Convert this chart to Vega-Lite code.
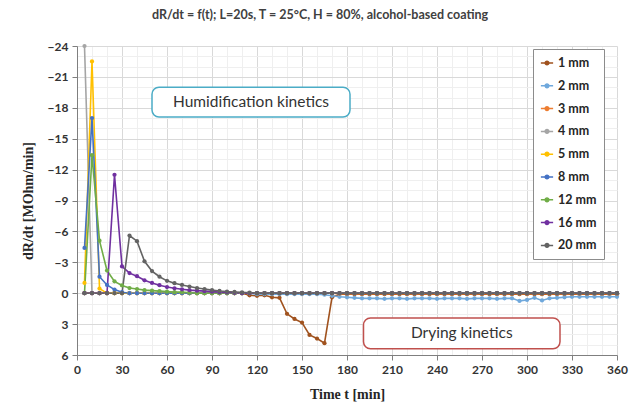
{
  "$schema": "https://vega.github.io/schema/vega-lite/v6.json",
  "width": 540,
  "height": 309,
  "autosize": {"type": "none"},
  "padding": {"left": 77, "top": 46, "right": 23, "bottom": 52},
  "background": "white",
  "title": {
    "text": "dR/dt = f(t); L=20s, T = 25°C, H = 80%, alcohol-based coating",
    "font": "Lato", "fontSize": 12.5, "fontWeight": "bold", "color": "#404040",
    "anchor": "middle", "dx": -27, "offset": 19
  },
  "config": {
    "view": {"stroke": null},
    "axis": {"labelFont": "Lato", "labelFontWeight": "bold", "labelFontSize": 12, "labelColor": "#333333",
             "titleFont": "Liberation Serif", "titleFontWeight": "bold", "titleFontSize": 14, "titleColor": "#262626",
             "domainColor": "#7f7f7f", "tickColor": "#7f7f7f"}
  },
  "datasets": {
    "notes": [
      {"label": "Humidification kinetics", "t": 50, "t2": 182, "v": -20, "v2": -17.1, "tm": 116, "vm": -18.55, "kind": "h"},
      {"label": "Drying kinetics", "t": 191, "t2": 322, "v": 2.4, "v2": 5.4, "tm": 256.5, "vm": 3.9, "kind": "d"}
    ],
    "rates": [
      {"t":5,"1 mm":0,"2 mm":0,"3 mm":0,"4 mm":-24,"5 mm":-1.0,"8 mm":-4.4,"12 mm":0,"16 mm":0,"20 mm":0},
      {"t":10,"1 mm":0,"2 mm":0,"3 mm":0,"4 mm":0,"5 mm":-22.5,"8 mm":-17,"12 mm":-13.4,"16 mm":0,"20 mm":0},
      {"t":15,"1 mm":0,"2 mm":0,"3 mm":0,"4 mm":0,"5 mm":-0.45,"8 mm":-1.6,"12 mm":-5.1,"16 mm":0,"20 mm":0},
      {"t":20,"1 mm":0,"2 mm":0,"3 mm":0,"4 mm":0,"5 mm":0,"8 mm":-0.8,"12 mm":-2.2,"16 mm":0,"20 mm":0},
      {"t":25,"1 mm":0,"2 mm":0,"3 mm":0,"4 mm":0,"5 mm":0,"8 mm":-0.35,"12 mm":-1.15,"16 mm":-11.5,"20 mm":0},
      {"t":30,"1 mm":0,"2 mm":0,"3 mm":0,"4 mm":0,"5 mm":0,"8 mm":-0.1,"12 mm":-0.75,"16 mm":-2.6,"20 mm":0},
      {"t":35,"1 mm":0,"2 mm":0,"3 mm":0,"4 mm":0,"5 mm":0,"8 mm":0,"12 mm":-0.5,"16 mm":-1.95,"20 mm":-5.6},
      {"t":40,"1 mm":0,"2 mm":0,"3 mm":0,"4 mm":0,"5 mm":0,"8 mm":0,"12 mm":-0.4,"16 mm":-1.65,"20 mm":-5.05},
      {"t":45,"1 mm":0,"2 mm":0,"3 mm":0,"4 mm":0,"5 mm":0,"8 mm":0,"12 mm":-0.3,"16 mm":-1.25,"20 mm":-3.1},
      {"t":50,"1 mm":0,"2 mm":0,"3 mm":0,"4 mm":0,"5 mm":0,"8 mm":0,"12 mm":-0.25,"16 mm":-1.0,"20 mm":-2.15},
      {"t":55,"1 mm":0,"2 mm":0,"3 mm":0,"4 mm":0,"5 mm":0,"8 mm":0,"12 mm":-0.2,"16 mm":-0.78,"20 mm":-1.6},
      {"t":60,"1 mm":0,"2 mm":0,"3 mm":0,"4 mm":0,"5 mm":0,"8 mm":0,"12 mm":-0.15,"16 mm":-0.6,"20 mm":-1.2},
      {"t":65,"1 mm":0,"2 mm":0,"3 mm":0,"4 mm":0,"5 mm":0,"8 mm":0,"12 mm":-0.1,"16 mm":-0.48,"20 mm":-0.97},
      {"t":70,"1 mm":0,"2 mm":0,"3 mm":0,"4 mm":0,"5 mm":0,"8 mm":0,"12 mm":-0.1,"16 mm":-0.38,"20 mm":-0.8},
      {"t":75,"1 mm":0,"2 mm":0,"3 mm":0,"4 mm":0,"5 mm":0,"8 mm":0,"12 mm":-0.05,"16 mm":-0.3,"20 mm":-0.65},
      {"t":80,"1 mm":0,"2 mm":0,"3 mm":0,"4 mm":0,"5 mm":0,"8 mm":0,"12 mm":0,"16 mm":-0.25,"20 mm":-0.5},
      {"t":85,"1 mm":0,"2 mm":0,"3 mm":0,"4 mm":0,"5 mm":0,"8 mm":0,"12 mm":0,"16 mm":-0.2,"20 mm":-0.4},
      {"t":90,"1 mm":0,"2 mm":0,"3 mm":0,"4 mm":0,"5 mm":0,"8 mm":0,"12 mm":0,"16 mm":-0.15,"20 mm":-0.3},
      {"t":95,"1 mm":0,"2 mm":0,"3 mm":0,"4 mm":0,"5 mm":0,"8 mm":0,"12 mm":0,"16 mm":-0.1,"20 mm":-0.22},
      {"t":100,"1 mm":0,"2 mm":0,"3 mm":0,"4 mm":0,"5 mm":0,"8 mm":0,"12 mm":0,"16 mm":-0.07,"20 mm":-0.16},
      {"t":105,"1 mm":0,"2 mm":0,"3 mm":0,"4 mm":0,"5 mm":0,"8 mm":0,"12 mm":0,"16 mm":-0.04,"20 mm":-0.12},
      {"t":110,"1 mm":0,"2 mm":0,"3 mm":0,"4 mm":0,"5 mm":0,"8 mm":0,"12 mm":0,"16 mm":0,"20 mm":-0.08},
      {"t":115,"1 mm":0.2,"2 mm":0,"3 mm":0,"4 mm":0,"5 mm":0,"8 mm":0,"12 mm":0,"16 mm":0,"20 mm":-0.05},
      {"t":120,"1 mm":0.25,"2 mm":0.1,"3 mm":0,"4 mm":0,"5 mm":0,"8 mm":0,"12 mm":0,"16 mm":0,"20 mm":0},
      {"t":125,"1 mm":0.2,"2 mm":0.1,"3 mm":0,"4 mm":0,"5 mm":0,"8 mm":0,"12 mm":0,"16 mm":0,"20 mm":0},
      {"t":130,"1 mm":0.4,"2 mm":0.1,"3 mm":0,"4 mm":0,"5 mm":0,"8 mm":0,"12 mm":0,"16 mm":0,"20 mm":0},
      {"t":135,"1 mm":0.45,"2 mm":0.1,"3 mm":0,"4 mm":0,"5 mm":0,"8 mm":0,"12 mm":0,"16 mm":0,"20 mm":0},
      {"t":140,"1 mm":2.0,"2 mm":0.1,"3 mm":0,"4 mm":0,"5 mm":0,"8 mm":0,"12 mm":0,"16 mm":0,"20 mm":0},
      {"t":145,"1 mm":2.5,"2 mm":0.1,"3 mm":0,"4 mm":0,"5 mm":0,"8 mm":0,"12 mm":0,"16 mm":0,"20 mm":0},
      {"t":150,"1 mm":2.85,"2 mm":0.1,"3 mm":0,"4 mm":0,"5 mm":0,"8 mm":0,"12 mm":0,"16 mm":0,"20 mm":0},
      {"t":155,"1 mm":4.05,"2 mm":0.1,"3 mm":0,"4 mm":0,"5 mm":0,"8 mm":0,"12 mm":0,"16 mm":0,"20 mm":0},
      {"t":160,"1 mm":4.4,"2 mm":0.1,"3 mm":0,"4 mm":0,"5 mm":0,"8 mm":0,"12 mm":0,"16 mm":0,"20 mm":0},
      {"t":165,"1 mm":4.85,"2 mm":0.15,"3 mm":0,"4 mm":0,"5 mm":0,"8 mm":0,"12 mm":0,"16 mm":0,"20 mm":0},
      {"t":170,"1 mm":0.4,"2 mm":0.25,"3 mm":0,"4 mm":0,"5 mm":0,"8 mm":0,"12 mm":0,"16 mm":0,"20 mm":0},
      {"t":175,"1 mm":0.1,"2 mm":0.35,"3 mm":0.05,"4 mm":0,"5 mm":0,"8 mm":0,"12 mm":0,"16 mm":0,"20 mm":0},
      {"t":180,"1 mm":0.1,"2 mm":0.4,"3 mm":0.05,"4 mm":0,"5 mm":0,"8 mm":0,"12 mm":0,"16 mm":0,"20 mm":0},
      {"t":185,"1 mm":0.1,"2 mm":0.45,"3 mm":0.05,"4 mm":0,"5 mm":0,"8 mm":0,"12 mm":0,"16 mm":0,"20 mm":0},
      {"t":190,"1 mm":0.1,"2 mm":0.5,"3 mm":0.05,"4 mm":0,"5 mm":0,"8 mm":0,"12 mm":0,"16 mm":0,"20 mm":0},
      {"t":195,"1 mm":0.1,"2 mm":0.5,"3 mm":0.05,"4 mm":0,"5 mm":0,"8 mm":0,"12 mm":0,"16 mm":0,"20 mm":0},
      {"t":200,"1 mm":0.1,"2 mm":0.5,"3 mm":0.05,"4 mm":0,"5 mm":0,"8 mm":0,"12 mm":0,"16 mm":0,"20 mm":0},
      {"t":205,"1 mm":0.1,"2 mm":0.55,"3 mm":0.05,"4 mm":0,"5 mm":0,"8 mm":0,"12 mm":0,"16 mm":0,"20 mm":0},
      {"t":210,"1 mm":0.1,"2 mm":0.5,"3 mm":0.05,"4 mm":0,"5 mm":0,"8 mm":0,"12 mm":0,"16 mm":0,"20 mm":0},
      {"t":215,"1 mm":0.1,"2 mm":0.5,"3 mm":0.05,"4 mm":0,"5 mm":0,"8 mm":0,"12 mm":0,"16 mm":0,"20 mm":0},
      {"t":220,"1 mm":0.1,"2 mm":0.55,"3 mm":0.05,"4 mm":0,"5 mm":0,"8 mm":0,"12 mm":0,"16 mm":0,"20 mm":0},
      {"t":225,"1 mm":0.1,"2 mm":0.5,"3 mm":0.05,"4 mm":0,"5 mm":0,"8 mm":0,"12 mm":0,"16 mm":0,"20 mm":0},
      {"t":230,"1 mm":0.1,"2 mm":0.5,"3 mm":0.05,"4 mm":0,"5 mm":0,"8 mm":0,"12 mm":0,"16 mm":0,"20 mm":0},
      {"t":235,"1 mm":0.1,"2 mm":0.5,"3 mm":0.05,"4 mm":0,"5 mm":0,"8 mm":0,"12 mm":0,"16 mm":0,"20 mm":0},
      {"t":240,"1 mm":0.1,"2 mm":0.55,"3 mm":0.05,"4 mm":0,"5 mm":0,"8 mm":0,"12 mm":0,"16 mm":0,"20 mm":0},
      {"t":245,"1 mm":0.1,"2 mm":0.5,"3 mm":0.05,"4 mm":0,"5 mm":0,"8 mm":0,"12 mm":0,"16 mm":0,"20 mm":0},
      {"t":250,"1 mm":0.1,"2 mm":0.5,"3 mm":0.05,"4 mm":0,"5 mm":0,"8 mm":0,"12 mm":0,"16 mm":0,"20 mm":0},
      {"t":255,"1 mm":0.1,"2 mm":0.5,"3 mm":0.05,"4 mm":0,"5 mm":0,"8 mm":0,"12 mm":0,"16 mm":0,"20 mm":0},
      {"t":260,"1 mm":0.1,"2 mm":0.55,"3 mm":0.05,"4 mm":0,"5 mm":0,"8 mm":0,"12 mm":0,"16 mm":0,"20 mm":0},
      {"t":265,"1 mm":0.1,"2 mm":0.5,"3 mm":0.05,"4 mm":0,"5 mm":0,"8 mm":0,"12 mm":0,"16 mm":0,"20 mm":0},
      {"t":270,"1 mm":0.1,"2 mm":0.5,"3 mm":0.05,"4 mm":0,"5 mm":0,"8 mm":0,"12 mm":0,"16 mm":0,"20 mm":0},
      {"t":275,"1 mm":0.1,"2 mm":0.5,"3 mm":0.05,"4 mm":0,"5 mm":0,"8 mm":0,"12 mm":0,"16 mm":0,"20 mm":0},
      {"t":280,"1 mm":0.1,"2 mm":0.55,"3 mm":0.05,"4 mm":0,"5 mm":0,"8 mm":0,"12 mm":0,"16 mm":0,"20 mm":0},
      {"t":285,"1 mm":0.1,"2 mm":0.5,"3 mm":0.05,"4 mm":0,"5 mm":0,"8 mm":0,"12 mm":0,"16 mm":0,"20 mm":0},
      {"t":290,"1 mm":0.1,"2 mm":0.5,"3 mm":0.05,"4 mm":0,"5 mm":0,"8 mm":0,"12 mm":0,"16 mm":0,"20 mm":0},
      {"t":295,"1 mm":0.1,"2 mm":0.75,"3 mm":0.05,"4 mm":0,"5 mm":0,"8 mm":0,"12 mm":0,"16 mm":0,"20 mm":0},
      {"t":300,"1 mm":0.1,"2 mm":0.65,"3 mm":0.05,"4 mm":0,"5 mm":0,"8 mm":0,"12 mm":0,"16 mm":0,"20 mm":0},
      {"t":305,"1 mm":0.1,"2 mm":0.45,"3 mm":0.05,"4 mm":0,"5 mm":0,"8 mm":0,"12 mm":0,"16 mm":0,"20 mm":0},
      {"t":310,"1 mm":0.1,"2 mm":0.7,"3 mm":0.05,"4 mm":0,"5 mm":0,"8 mm":0,"12 mm":0,"16 mm":0,"20 mm":0},
      {"t":315,"1 mm":0.1,"2 mm":0.5,"3 mm":0.05,"4 mm":0,"5 mm":0,"8 mm":0,"12 mm":0,"16 mm":0,"20 mm":0},
      {"t":320,"1 mm":0.1,"2 mm":0.45,"3 mm":0.05,"4 mm":0,"5 mm":0,"8 mm":0,"12 mm":0,"16 mm":0,"20 mm":0},
      {"t":325,"1 mm":0.1,"2 mm":0.4,"3 mm":0.05,"4 mm":0,"5 mm":0,"8 mm":0,"12 mm":0,"16 mm":0,"20 mm":0},
      {"t":330,"1 mm":0.1,"2 mm":0.35,"3 mm":0.05,"4 mm":0,"5 mm":0,"8 mm":0,"12 mm":0,"16 mm":0,"20 mm":0},
      {"t":335,"1 mm":0.1,"2 mm":0.35,"3 mm":0.05,"4 mm":0,"5 mm":0,"8 mm":0,"12 mm":0,"16 mm":0,"20 mm":0},
      {"t":340,"1 mm":0.1,"2 mm":0.35,"3 mm":0.05,"4 mm":0,"5 mm":0,"8 mm":0,"12 mm":0,"16 mm":0,"20 mm":0},
      {"t":345,"1 mm":0.1,"2 mm":0.35,"3 mm":0.05,"4 mm":0,"5 mm":0,"8 mm":0,"12 mm":0,"16 mm":0,"20 mm":0},
      {"t":350,"1 mm":0.1,"2 mm":0.35,"3 mm":0.05,"4 mm":0,"5 mm":0,"8 mm":0,"12 mm":0,"16 mm":0,"20 mm":0},
      {"t":355,"1 mm":0.1,"2 mm":0.35,"3 mm":0.05,"4 mm":0,"5 mm":0,"8 mm":0,"12 mm":0,"16 mm":0,"20 mm":0},
      {"t":360,"1 mm":0.1,"2 mm":0.35,"3 mm":0.05,"4 mm":0,"5 mm":0,"8 mm":0,"12 mm":0,"16 mm":0,"20 mm":0}
    ]
  },
  "encoding": {
    "x": {"field": "t", "type": "quantitative",
          "scale": {"domain": [0, 360], "nice": false},
          "axis": {"title": "Time t [min]", "values": [0,10,20,30,40,50,60,70,80,90,100,110,120,130,140,150,160,170,180,190,200,210,220,230,240,250,260,270,280,290,300,310,320,330,340,350,360],
                   "labelExpr": "datum.value % 30 === 0 ? datum.label : ''",
                   "gridColor": {"condition": {"test": "datum.value % 30 === 0", "value": "#d9d9d9"}, "value": "#efefef"},
                   "tickOpacity": {"condition": {"test": "datum.value % 30 === 0", "value": 1}, "value": 0},
                   "tickSize": 5, "labelPadding": 4, "titlePadding": 12, "labelFlush": false}},
    "y": {"field": "v", "type": "quantitative",
          "scale": {"domain": [-24, 6], "reverse": true, "nice": false, "zero": false},
          "axis": {"title": "dR/dt [MOhm/min]", "values": [-24,-23,-22,-21,-20,-19,-18,-17,-16,-15,-14,-13,-12,-11,-10,-9,-8,-7,-6,-5,-4,-3,-2,-1,0,1,2,3,4,5,6],
                   "labelExpr": "datum.value % 3 === 0 ? datum.label : ''",
                   "gridColor": {"condition": {"test": "datum.value % 3 === 0", "value": "#d9d9d9"}, "value": "#efefef"},
                   "tickOpacity": {"condition": {"test": "datum.value % 3 === 0", "value": 1}, "value": 0},
                   "tickSize": 5, "labelPadding": 4, "titlePadding": 12, "labelFlush": false}}
  },
  "layer": [
    {
      "data": {"name": "rates"},
      "transform": [
        {"fold": ["1 mm", "2 mm", "3 mm", "4 mm", "5 mm", "8 mm", "12 mm", "16 mm", "20 mm"], "as": ["series", "v"]}
      ],
      "mark": {"type": "line", "strokeWidth": 1.6, "point": {"filled": true, "size": 18}},
      "encoding": {
        "color": {"field": "series", "type": "nominal",
                  "scale": {"domain": ["1 mm", "2 mm", "3 mm", "4 mm", "5 mm", "8 mm", "12 mm", "16 mm", "20 mm"],
                            "range": ["#A0521E", "#6FA8DC", "#ED7D31", "#A5A5A5", "#FFC000", "#4472C4", "#70AD47", "#7030A0", "#636363"]},
                  "legend": {"title": null, "orient": "none", "legendX": 456, "legendY": 3,
                             "labelFont": "Lato", "labelFontWeight": "bold", "labelFontSize": 12.5, "labelColor": "#262626",
                             "strokeColor": "#8c8c8c", "fillColor": "white", "padding": 7, "rowPadding": 8.8,
                             "symbolType": "M-1,0H1M-0.3,0A0.3,0.3 0 1,1 0.3,0A0.3,0.3 0 1,1 -0.3,0Z", "symbolSize": 150, "symbolStrokeWidth": 1.5,
                             "encode": {"symbols": {"update": {"fill": {"scale": "color", "field": "value"}}}}}},
        "order": {"field": "t", "type": "quantitative"}
      }
    },
    {
      "data": {"name": "notes"},
      "mark": {"type": "rect", "fill": "white", "strokeWidth": 1.5, "cornerRadius": 7},
      "encoding": {
        "x2": {"field": "t2"},
        "y2": {"field": "v2"},
        "stroke": {"field": "kind", "type": "nominal", "scale": {"domain": ["h", "d"], "range": ["#4BACC6", "#C0504D"]}, "legend": null}
      }
    },
    {
      "data": {"name": "notes"},
      "mark": {"type": "text", "font": "Lato", "fontSize": 15.5, "color": "#333333", "align": "center", "baseline": "middle"},
      "encoding": {
        "x": {"field": "tm", "type": "quantitative",
              "axis": {"title": "Time t [min]", "values": [0,10,20,30,40,50,60,70,80,90,100,110,120,130,140,150,160,170,180,190,200,210,220,230,240,250,260,270,280,290,300,310,320,330,340,350,360],
                       "labelExpr": "datum.value % 30 === 0 ? datum.label : ''",
                       "gridColor": {"condition": {"test": "datum.value % 30 === 0", "value": "#d9d9d9"}, "value": "#efefef"},
                       "tickOpacity": {"condition": {"test": "datum.value % 30 === 0", "value": 1}, "value": 0},
                       "tickSize": 5, "labelPadding": 4, "titlePadding": 12, "labelFlush": false}},
        "y": {"field": "vm", "type": "quantitative",
              "axis": {"title": "dR/dt [MOhm/min]", "values": [-24,-23,-22,-21,-20,-19,-18,-17,-16,-15,-14,-13,-12,-11,-10,-9,-8,-7,-6,-5,-4,-3,-2,-1,0,1,2,3,4,5,6],
                       "labelExpr": "datum.value % 3 === 0 ? datum.label : ''",
                       "gridColor": {"condition": {"test": "datum.value % 3 === 0", "value": "#d9d9d9"}, "value": "#efefef"},
                       "tickOpacity": {"condition": {"test": "datum.value % 3 === 0", "value": 1}, "value": 0},
                       "tickSize": 5, "labelPadding": 4, "titlePadding": 12, "labelFlush": false}},
        "text": {"field": "label"}
      }
    }
  ]
}
